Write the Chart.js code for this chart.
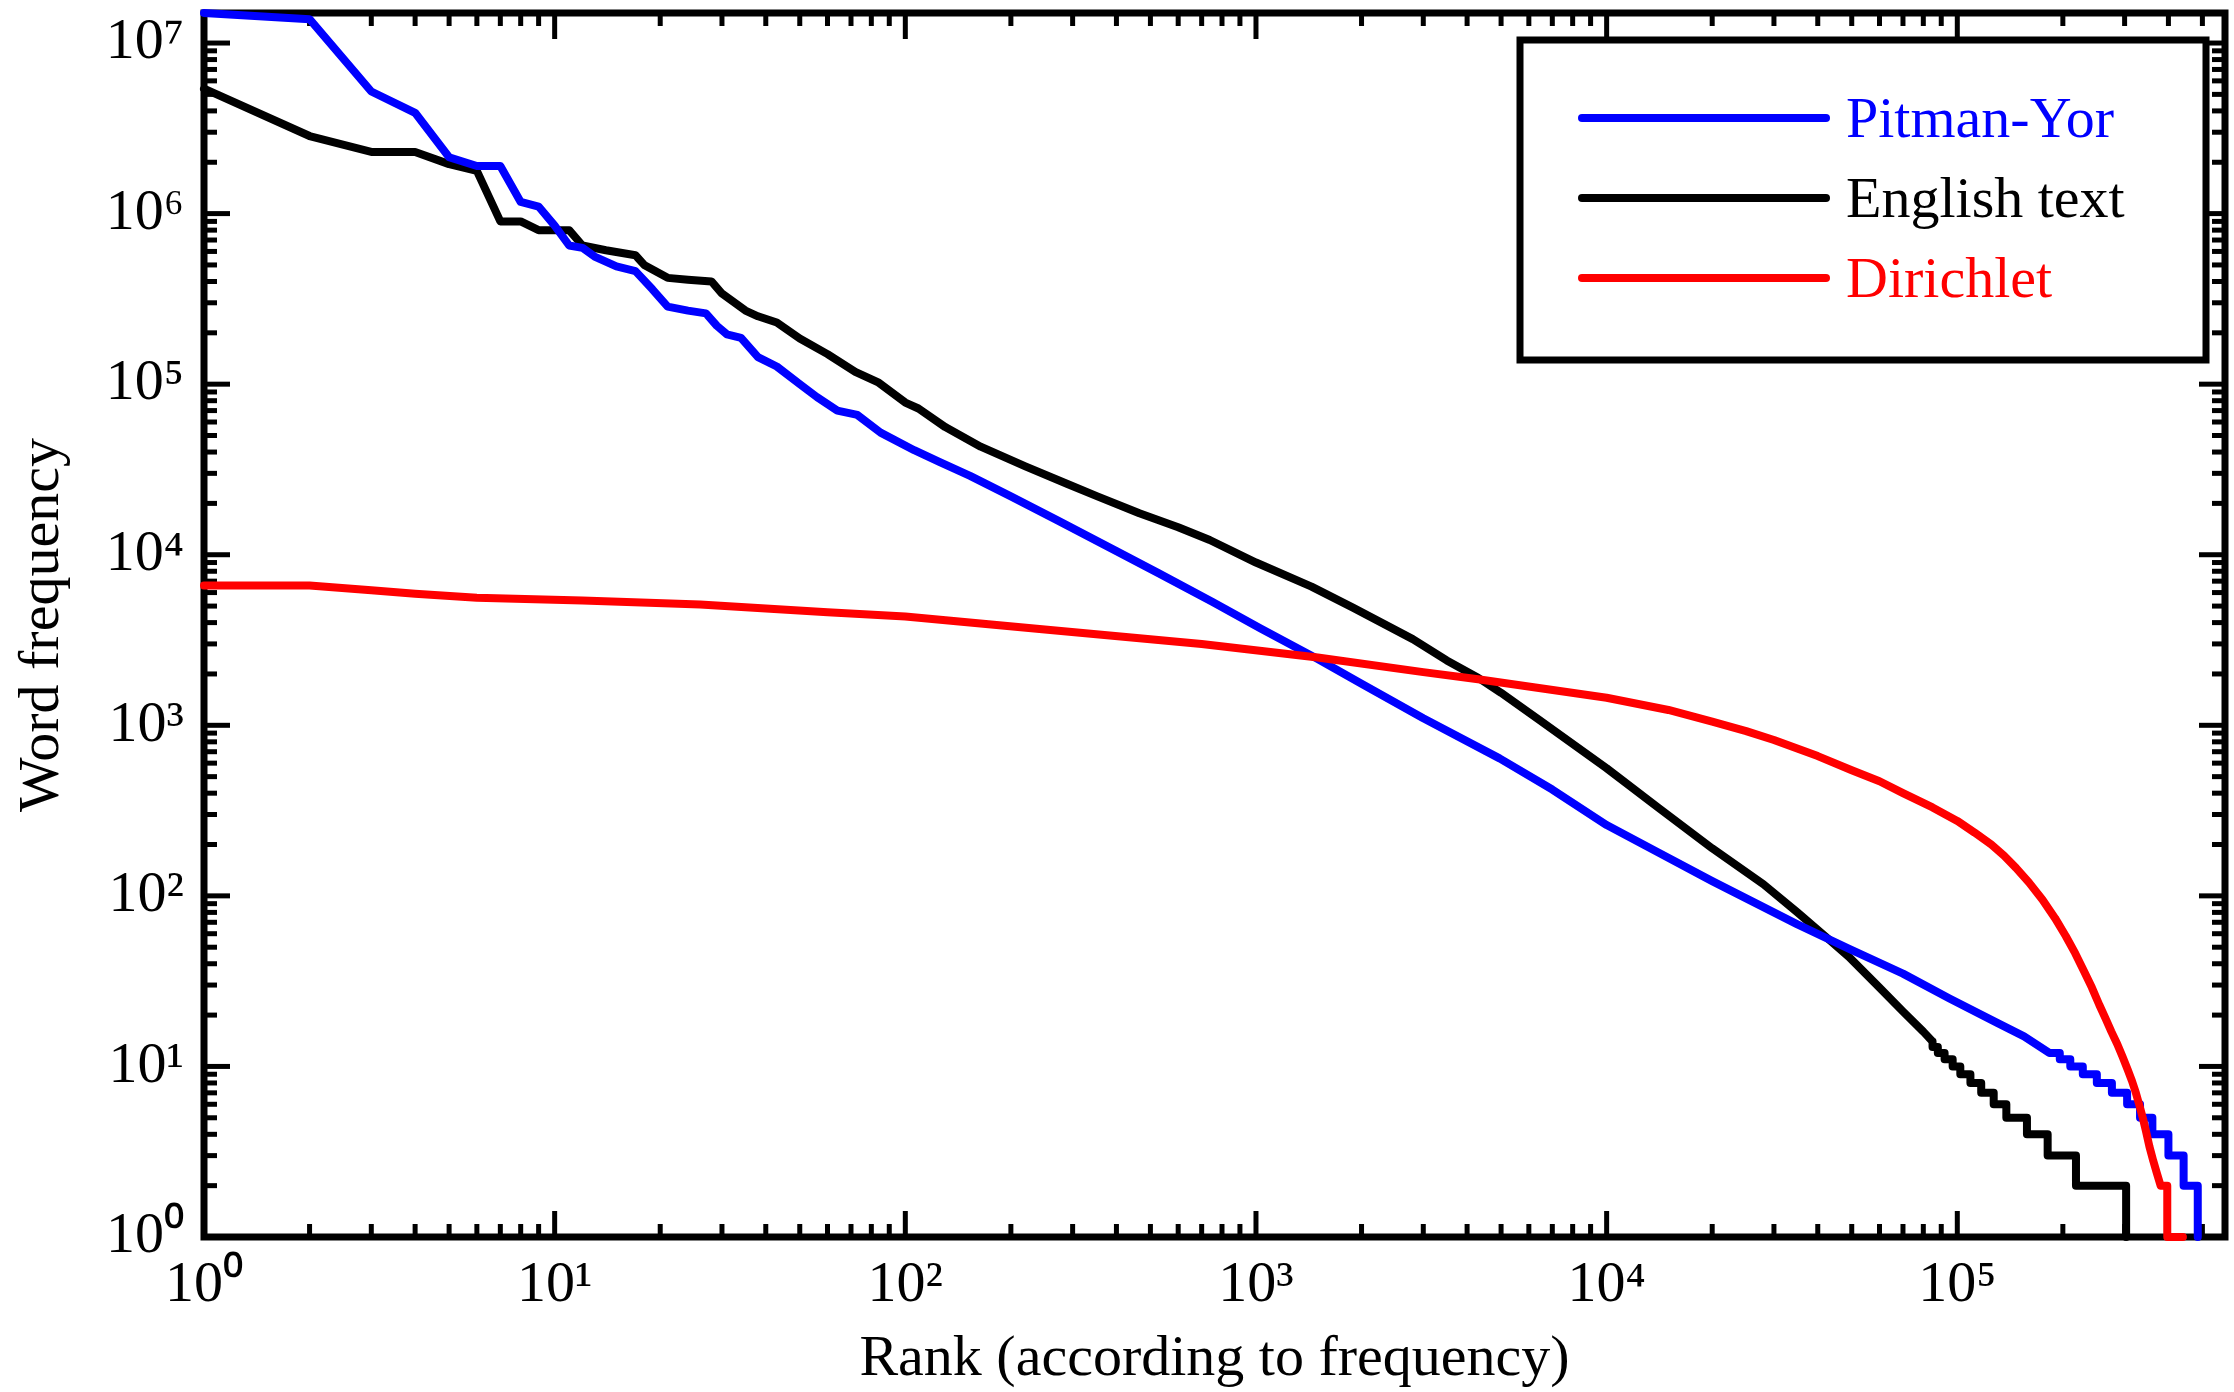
<!DOCTYPE html>
<html>
<head>
<meta charset="utf-8">
<title>Word frequency vs rank</title>
<script src="https://cdn.jsdelivr.net/npm/chart.js@4.4.1/dist/chart.umd.min.js"></script>
<style>
  html, body { margin: 0; padding: 0; background: #fff; }
  canvas { display: block; }
</style>
</head>
<body>
<canvas id="chart" width="2234" height="1392"></canvas>
<script>
// rank / frequency pairs for each curve (log-log)
var seriesNames = ['Pitman-Yor', 'English text', 'Dirichlet'];
var seriesColors = ['#0000ff', '#000000', '#ff0000'];

var pyRank = [1, 2, 3, 4, 5, 6, 7, 8, 9, 10, 11, 12, 13, 15, 17, 19, 21, 24, 27, 29, 31, 34, 38, 43, 50, 56, 64, 73, 85, 106, 125, 153, 200, 270, 400, 527, 750, 1031, 1500, 2000, 3000, 4950, 7000, 10000, 14000, 20000, 35000, 49000, 70000, 95000, 130000, 155000,
  183000, 196000, 196000, 210000, 210000, 228000, 228000, 250000, 250000, 276000, 276000, 305000, 305000, 332000, 332000, 360000, 360000, 400000, 400000, 442000, 442000, 485000, 485000];
var pyFreq = [1.5e7, 1.38e7, 5.2e6, 3.9e6, 2.14e6, 1.9e6, 1.9e6, 1.17e6, 1.1e6, 8.5e5, 6.5e5, 6.3e5, 5.6e5, 4.9e5, 4.6e5, 3.6e5, 2.85e5, 2.7e5, 2.6e5, 2.2e5, 1.96e5, 1.87e5, 1.44e5, 1.27e5, 1.0e5, 8.4e4, 7.0e4, 6.6e4, 5.2e4, 4.1e4, 3.5e4, 2.9e4, 2.2e4, 1.6e4, 1.05e4, 7.8e3, 5.3e3, 3.7e3, 2.45e3, 1.75e3, 1.1e3, 640, 420, 260, 180, 122, 68, 49, 35, 25, 18, 15,
  12, 12, 11, 11, 10, 10, 9, 9, 8, 8, 7, 7, 6, 6, 5, 5, 4, 4, 3, 3, 2, 2, 1];

var engRank = [1, 2, 3, 4, 5, 6, 7, 8, 9, 10, 11, 12, 14, 17, 18, 21, 24, 28, 30, 35, 38, 43, 50, 60, 72, 84, 100, 109, 130, 164, 220, 290, 353, 465, 600, 738, 1000, 1440, 1890, 2800, 3500, 4300, 5000, 6400, 10000, 14000, 20000, 28000, 35000, 42000, 49000, 60000, 70000, 80000,
  85000, 85000, 88000, 88000, 92000, 92000, 97000, 97000, 102000, 102000, 109000, 109000, 117000, 117000, 127000, 127000, 138000, 138000, 158000, 158000, 181000, 181000, 218000, 218000, 303000, 303000];
var engFreq = [5.4e6, 2.85e6, 2.3e6, 2.3e6, 1.95e6, 1.78e6, 9.0e5, 9.0e5, 8.0e5, 8.0e5, 8.0e5, 6.5e5, 6.1e5, 5.7e5, 5.0e5, 4.2e5, 4.1e5, 4.0e5, 3.4e5, 2.7e5, 2.5e5, 2.3e5, 1.85e5, 1.5e5, 1.18e5, 1.02e5, 7.8e4, 7.2e4, 5.6e4, 4.3e4, 3.3e4, 2.6e4, 2.2e4, 1.75e4, 1.45e4, 1.22e4, 9.0e3, 6.5e3, 4.9e3, 3.2e3, 2.4e3, 1.9e3, 1.55e3, 1.08e3, 560, 330, 190, 117, 80, 58, 44, 29, 21, 16,
  14, 13, 13, 12, 12, 11, 11, 10, 10, 9, 9, 8, 8, 7, 7, 6, 6, 5, 5, 4, 4, 3, 3, 2, 2, 1];

var dirRank = [1, 2, 3, 4, 6, 12, 26, 60, 100, 250, 700, 1500, 3000, 4300, 10000, 15000, 20000, 25000, 30000, 40000, 50000, 60000, 70000, 85000, 100000, 112000, 125000, 136000, 147000, 160000, 175000, 190000, 204000, 217000, 230000, 242000, 254000, 265000, 275000, 286000, 296000, 306000, 315000, 323000, 330000, 338000, 345000, 353000, 362000, 370000, 380000, 397000, 397000, 440000];
var dirFreq = [6.6e3, 6.6e3, 6.2e3, 5.9e3, 5.6e3, 5.4e3, 5.1e3, 4.6e3, 4.35e3, 3.65e3, 3.0e3, 2.5e3, 2.05e3, 1.86e3, 1.45e3, 1.23e3, 1.05e3, 925, 820, 660, 545, 470, 400, 330, 275, 235, 200, 172, 146, 120, 95, 74, 58, 46, 36, 29, 23, 19, 16, 13.5, 11.4, 9.6, 8.2, 7, 6, 5, 4.2, 3.4, 2.8, 2.4, 2, 2, 1, 1];

var xTickValues = [1, 10, 100, 1000, 10000, 100000];
var xTickLabels = ['10⁰', '10¹', '10²', '10³', '10⁴', '10⁵'];
var yTickValues = [1, 10, 100, 1000, 10000, 100000, 1000000, 10000000];
var yTickLabels = ['10⁰', '10¹', '10²', '10³', '10⁴', '10⁵', '10⁶', '10⁷'];

var xMin = 1, xMax = 5.8e5;
var yMin = 1, yMax = 1.5e7;

function toPoints(ranks, freqs) {
  return ranks.map(function(r, i) { return {x: r, y: freqs[i]}; });
}

var serif = '"Liberation Serif", "Times New Roman", serif';

// inward tick marks on all four sides, then the box around the plot
var frameTicks = {
  id: 'frameTicks',
  beforeDatasetsDraw: function(chart) {
    var ctx = chart.ctx, a = chart.chartArea;
    var xs = chart.scales.x, ys = chart.scales.y;
    ctx.save();
    ctx.strokeStyle = '#000';
    ctx.lineWidth = 5;
    ctx.lineCap = 'butt';

    function mark(x1, y1, x2, y2) {
      ctx.beginPath();
      ctx.moveTo(x1, y1);
      ctx.lineTo(x2, y2);
      ctx.stroke();
    }

    for (var e = 0; e <= 6; e++) {
      for (var k = 1; k <= 9; k++) {
        var v = k * Math.pow(10, e);
        var len = k === 1 ? 26 : 13;
        if (v >= xMin && v <= xMax) {
          var px = xs.getPixelForValue(v);
          mark(px, a.bottom, px, a.bottom - len);
          mark(px, a.top, px, a.top + len);
        }
      }
    }
    for (var e2 = 0; e2 <= 7; e2++) {
      for (var k2 = 1; k2 <= 9; k2++) {
        var v2 = k2 * Math.pow(10, e2);
        var len2 = k2 === 1 ? 26 : 13;
        if (v2 >= yMin && v2 <= yMax) {
          var py = ys.getPixelForValue(v2);
          mark(a.left, py, a.left + len2, py);
          mark(a.right, py, a.right - len2, py);
        }
      }
    }

    ctx.lineWidth = 7;
    ctx.strokeRect(a.left, a.top, a.right - a.left, a.bottom - a.top);
    ctx.restore();
  }
};

// boxed legend in the upper right corner of the plot
var boxLegend = {
  id: 'boxLegend',
  afterDatasetsDraw: function(chart) {
    var ctx = chart.ctx;
    var left = 1520, top = 40, right = 2206, bottom = 360;
    ctx.save();
    ctx.fillStyle = '#fff';
    ctx.fillRect(left, top, right - left, bottom - top);
    ctx.strokeStyle = '#000';
    ctx.lineWidth = 7;
    ctx.strokeRect(left, top, right - left, bottom - top);

    ctx.font = '58px ' + serif;
    ctx.textAlign = 'left';
    ctx.textBaseline = 'alphabetic';
    chart.data.datasets.forEach(function(ds, i) {
      var y = 118 + i * 80;
      ctx.strokeStyle = ds.borderColor;
      ctx.lineWidth = 8;
      ctx.lineCap = 'round';
      ctx.beginPath();
      ctx.moveTo(1582, y);
      ctx.lineTo(1826, y);
      ctx.stroke();
      ctx.fillStyle = ds.borderColor;
      ctx.fillText(ds.label, 1846, y + 19);
    });
    ctx.restore();
  }
};

var lineStyle = {
  showLine: true,
  pointRadius: 0,
  borderWidth: 8,
  tension: 0,
  borderCapStyle: 'round',
  borderJoinStyle: 'round',
  clip: 6
};

var config = {
  type: 'scatter',
  data: {
    datasets: [
      Object.assign({
        label: seriesNames[0],
        data: toPoints(pyRank, pyFreq),
        borderColor: seriesColors[0],
        backgroundColor: seriesColors[0],
        order: 1
      }, lineStyle),
      Object.assign({
        label: seriesNames[1],
        data: toPoints(engRank, engFreq),
        borderColor: seriesColors[1],
        backgroundColor: seriesColors[1],
        order: 2
      }, lineStyle),
      Object.assign({
        label: seriesNames[2],
        data: toPoints(dirRank, dirFreq),
        borderColor: seriesColors[2],
        backgroundColor: seriesColors[2],
        order: 0
      }, lineStyle)
    ]
  },
  options: {
    responsive: false,
    animation: false,
    devicePixelRatio: 1,
    layout: {
      padding: { top: 13, right: 9, left: 0, bottom: 0 }
    },
    plugins: {
      legend: { display: false },
      tooltip: { enabled: false }
    },
    scales: {
      x: {
        type: 'logarithmic',
        min: xMin,
        max: xMax,
        grid: { display: false, drawTicks: false },
        border: { display: false },
        afterBuildTicks: function(scale) {
          scale.ticks = xTickValues.map(function(v) { return {value: v}; });
        },
        afterFit: function(scale) {
          scale.height = 155;
          scale.paddingLeft = 0;
          scale.paddingRight = 0;
        },
        ticks: {
          autoSkip: false,
          maxRotation: 0,
          padding: 14,
          color: '#000',
          font: { family: serif, size: 58 },
          callback: function(value, index) { return xTickLabels[index]; }
        },
        title: {
          display: true,
          text: 'Rank (according to frequency)',
          color: '#000',
          font: { family: serif, size: 58, lineHeight: 1.1 },
          padding: { top: 0, bottom: 0 }
        }
      },
      y: {
        type: 'logarithmic',
        min: yMin,
        max: yMax,
        grid: { display: false, drawTicks: false },
        border: { display: false },
        afterBuildTicks: function(scale) {
          scale.ticks = yTickValues.map(function(v) { return {value: v}; });
        },
        afterFit: function(scale) {
          scale.width = 204;
          scale.paddingTop = 0;
          scale.paddingBottom = 0;
        },
        ticks: {
          autoSkip: false,
          padding: 20,
          color: '#000',
          font: { family: serif, size: 58 },
          callback: function(value, index) { return yTickLabels[index]; }
        },
        title: {
          display: true,
          text: 'Word frequency',
          color: '#000',
          font: { family: serif, size: 58, lineHeight: 1.1 },
          padding: { top: 11, bottom: 0 }
        }
      }
    }
  },
  plugins: [frameTicks, boxLegend]
};

var ctx = document.getElementById('chart').getContext('2d');
window.rankChart = new Chart(ctx, config);
</script>
</body>
</html>
